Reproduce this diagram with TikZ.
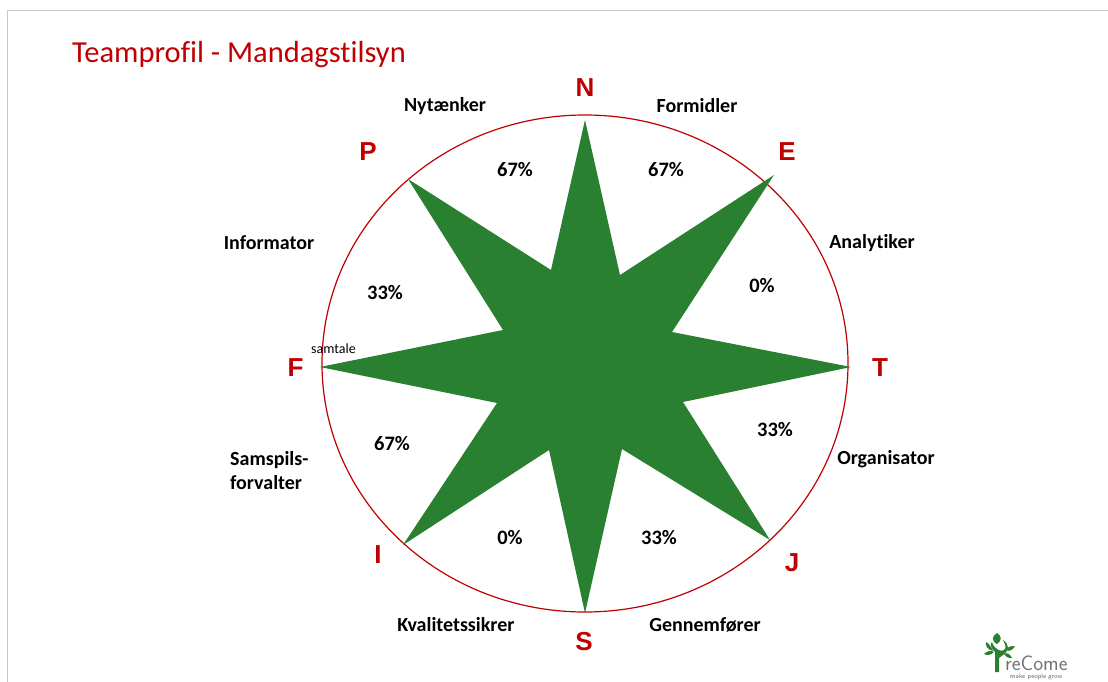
\documentclass[tikz,border=0pt]{standalone}
\usetikzlibrary{shapes.geometric}
\usepackage{fontspec}
\setmainfont{Carlito}[Ligatures=CommonOff]
\newfontfamily\letterfont{Liberation Sans}
\definecolor{rim}{HTML}{C00000}
\definecolor{leaf}{HTML}{298030}
\definecolor{frameg}{HTML}{C8C8C8}
\tikzset{
  lab/.style={font=\fontsize{20}{24}\selectfont\bfseries,text=black,align=center,inner sep=0pt},
  pct/.style={font=\fontsize{20.5}{22}\selectfont\bfseries,text=black,inner sep=0pt},
  dim/.style={font=\fontsize{26}{28}\selectfont\letterfont\bfseries,text=rim,inner sep=0pt},
  logoleaf/.style={fill=leaf,draw=none}
}
\begin{document}
\begin{tikzpicture}[x=1pt,y=-1pt]
\useasboundingbox (0,0) rectangle (1108,682);
\fill[white] (0,0) rectangle (1108,682);
\draw[frameg,line width=1pt] (7.5,682) -- (7.5,10.5) -- (1108,10.5);
\node[anchor=west,inner sep=0pt,text=rim,font=\fontsize{30.5}{34}\selectfont] (title) at (72,54.5) {Teamprofil - Mandagstilsyn};
\node[ellipse,draw=rim,line width=1.2pt,minimum width=526pt,minimum height=497pt,inner sep=0pt] (ring) at (585,363.5) {};
\fill[leaf] (585,120) -- (620,275) -- (774,175) -- (672,332) -- (851,367) -- (683,402) -- (770,540) -- (622,449) -- (585,613) -- (549,450) -- (403,545) -- (497,403) -- (320,367) -- (503,330) -- (408,179) -- (551,270) -- cycle;
\node[dim] (n) at (585,87.5) {N};
\node[dim] (e) at (787,151.5) {E};
\node[dim] (t) at (880,367.5) {T};
\node[dim] (j) at (792,562.5) {J};
\node[dim] (s) at (584,641.5) {S};
\node[dim] (i) at (378,554.5) {I};
\node[dim] (f) at (295.5,367.5) {F};
\node[dim] (p) at (368,151.5) {P};
\node[lab] (l1) at (445,106) {Nytænker};
\node[lab] (l2) at (697,105.5) {Formidler};
\node[lab] (l3) at (872,243) {Analytiker};
\node[lab] (l4) at (886,459.5) {Organisator};
\node[lab] (l5) at (705,624.5) {Gennemfører};
\node[lab] (l6) at (456,624.5) {Kvalitetssikrer};
\node[lab,align=left,anchor=west] (l7) at (230,471) {Samspils-\\forvalter};
\node[lab] (l8) at (269,243) {Informator};
\node[pct] (p1) at (515,170) {67\%};
\node[pct] (p2) at (666,170) {67\%};
\node[pct] (p3) at (762,285.5) {0\%};
\node[pct] (p4) at (775,429.5) {33\%};
\node[pct] (p5) at (659,537.5) {33\%};
\node[pct] (p6) at (510,537.5) {0\%};
\node[pct] (p7) at (392,443.5) {67\%};
\node[pct] (p8) at (385,292.5) {33\%};
\node[inner sep=0pt,font=\fontsize{14}{16}\selectfont] (sam) at (333.5,348.5) {samtale};
% logo
\fill[logoleaf] (995,672) -- (995,652) .. controls (990,647) and (990,644) .. (992,642) .. controls (994,650) and (1002,652) .. (1004,650) .. controls (1007,648) and (1005,644) .. (1003,640) .. controls (1009,644) and (1010,650) .. (1003,655) -- (999,658) -- (999,672) -- cycle;
\fill[logoleaf] (997,644) .. controls (991,641) and (992,636) .. (997,633) .. controls (1002,636) and (1002,641) .. (997,644) -- cycle;
\fill[logoleaf] (993,651) .. controls (991,646) and (988,643) .. (986,642) .. controls (985,646) and (988,650) .. (993,651) -- cycle;
\fill[logoleaf] (984,654) .. controls (987,651) and (991,650) .. (994,652) .. controls (991,655) and (987,656) .. (984,654) -- cycle;
\fill[logoleaf] (1006,650) .. controls (1008,646) and (1012,646) .. (1015,646) .. controls (1013,650) and (1009,652) .. (1006,650) -- cycle;
\fill[logoleaf] (1004,654) .. controls (1007,652) and (1010,654) .. (1012,658) .. controls (1008,658) and (1005,657) .. (1004,654) -- cycle;
\node[anchor=base west,inner sep=0pt,text=black!55,font=\fontsize{21}{22}\selectfont\sffamily] (logo) at (1005,670) {reCome};
\node[anchor=base west,inner sep=0pt,text=black!60,font=\fontsize{6.5}{7}\selectfont\sffamily] (tag) at (1010,678.5) {make people grow};
\end{tikzpicture}
\end{document}
